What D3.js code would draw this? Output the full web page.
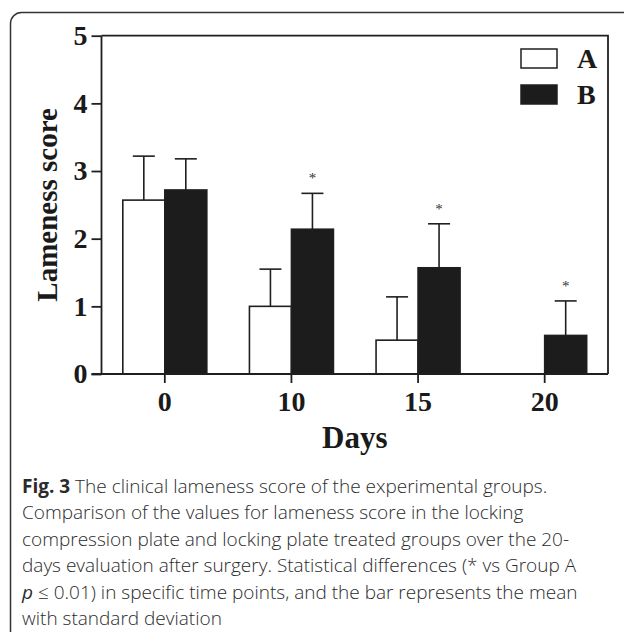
<!DOCTYPE html>
<html>
<head>
<meta charset="utf-8">
<script src="https://cdn.jsdelivr.net/npm/d3@7"></script>
<style>
  html, body { margin: 0; padding: 0; background: #fff; }
  svg { display: block; }
  .serif { font-family: "Liberation Serif", "Times New Roman", serif; font-weight: bold; fill: #1a1a1a; }
  .cap { font-family: "Open Sans", "Noto Sans", sans-serif; fill: #2b2b2b; }
</style>
</head>
<body>
<svg id="chart" width="624" height="632"></svg>
<script>
/* Lameness score bar chart, groups A and B over days after surgery. */

const days = ["0", "10", "15", "20"];
const groups = ["A", "B"];
const meanA = [2.57, 1.0, 0.5, 0];
const sdA = [0.65, 0.55, 0.64, 0];
const meanB = [2.72, 2.14, 1.57, 0.57];
const sdB = [0.46, 0.53, 0.65, 0.51];
const signif = [false, true, true, true]; // * vs group A, B bars only
const yTicks = [0, 1, 2, 3, 4, 5];

const captionLines = [
  ["Fig. 3", " The clinical lameness score of the experimental groups."],
  ["", "Comparison of the values for lameness score in the locking"],
  ["", "compression plate and locking plate treated groups over the 20-"],
  ["", "days evaluation after surgery. Statistical differences (* vs Group A"],
  ["p", " \u2264 0.01) in specific time points, and the bar represents the mean"],
  ["", "with standard deviation"],
];

const ink = "#1f1f1f";
const svg = d3.select("#chart");

// outer figure frame (runs off the right and bottom edges)
svg.append("rect")
  .attr("x", 10.5).attr("y", 12.5)
  .attr("width", 700).attr("height", 700)
  .attr("rx", 11)
  .attr("fill", "none")
  .attr("stroke", "#333")
  .attr("stroke-width", 1.5);

const plot = { left: 101.5, right: 608, top: 35.7, bottom: 374 };

const x = d3.scaleBand().domain(days).range([plot.left, plot.right]).padding(0);
const y = d3.scaleLinear().domain([0, 5]).range([plot.bottom, plot.top]);
const barW = 42;

const rows = days.map((d, i) => [
  { day: d, g: "A", mean: meanA[i], sd: sdA[i] },
  { day: d, g: "B", mean: meanB[i], sd: sdB[i], star: signif[i] },
]).flat();

const barX = (r) => x(r.day) + x.bandwidth() / 2 + (r.g === "A" ? -barW : 0);

// error bars (upper only)
const err = svg.append("g")
  .attr("stroke", ink).attr("stroke-width", 1.6)
  .selectAll("g").data(rows.filter((r) => r.sd > 0)).join("g");
err.append("line")
  .attr("x1", (r) => barX(r) + barW / 2).attr("x2", (r) => barX(r) + barW / 2)
  .attr("y1", (r) => y(r.mean)).attr("y2", (r) => y(r.mean + r.sd));
err.append("line")
  .attr("x1", (r) => barX(r) + barW / 2 - 11).attr("x2", (r) => barX(r) + barW / 2 + 11)
  .attr("y1", (r) => y(r.mean + r.sd)).attr("y2", (r) => y(r.mean + r.sd));

// bars
svg.append("g").selectAll("rect").data(rows.filter((r) => r.mean > 0)).join("rect")
  .attr("x", (r) => barX(r))
  .attr("y", (r) => y(r.mean))
  .attr("width", barW)
  .attr("height", (r) => y(0) - y(r.mean))
  .attr("fill", (r) => (r.g === "A" ? "#fff" : "#1c1c1c"))
  .attr("stroke", ink)
  .attr("stroke-width", 1.6);

// significance stars
svg.append("g").selectAll("text").data(rows.filter((r) => r.star)).join("text")
  .attr("x", (r) => barX(r) + barW / 2)
  .attr("y", (r) => y(r.mean + r.sd) - 10)
  .attr("text-anchor", "middle")
  .style("font-family", "Liberation Serif, serif")
  .style("font-size", "15px")
  .style("fill", "#333")
  .text("*");

// axes
const yAxis = svg.append("g")
  .attr("transform", `translate(${plot.left},0)`)
  .call(d3.axisLeft(y).tickValues(yTicks).tickFormat(d3.format("d")).tickSize(10).tickPadding(4));
const xAxis = svg.append("g")
  .attr("transform", `translate(0,${plot.bottom})`)
  .call(d3.axisBottom(x).tickSize(9).tickSizeOuter(0).tickPadding(8));
[yAxis, xAxis].forEach((a) => {
  a.select(".domain").attr("stroke", ink).attr("stroke-width", 1.8);
  a.selectAll(".tick line").attr("stroke", ink).attr("stroke-width", 1.8);
  a.selectAll(".tick text").attr("class", "serif").attr("font-size", 28).attr("fill", ink);
});
yAxis.select(".domain").attr("d", `M0,${plot.bottom}V${plot.top}`);
xAxis.select(".domain").attr("d", `M${plot.left - 10},0H${plot.right}`);

// top and right frame lines
svg.append("path")
  .attr("d", `M${plot.left},${plot.top}H${plot.right}V${plot.bottom}`)
  .attr("fill", "none").attr("stroke", ink).attr("stroke-width", 1.8);

// axis titles
svg.append("text").attr("class", "serif")
  .attr("transform", `translate(57,${(plot.top + plot.bottom) / 2}) rotate(-90)`)
  .attr("text-anchor", "middle").attr("font-size", 29)
  .text("Lameness score");
svg.append("text").attr("class", "serif")
  .attr("x", (plot.left + plot.right) / 2).attr("y", 448)
  .attr("text-anchor", "middle").attr("font-size", 31)
  .text("Days");

// legend
const leg = svg.append("g").selectAll("g").data(groups).join("g")
  .attr("transform", (g, i) => `translate(521,${49 + i * 36})`);
leg.append("rect")
  .attr("width", 36).attr("height", 19)
  .attr("fill", (g) => (g === "A" ? "#fff" : "#1c1c1c"))
  .attr("stroke", ink).attr("stroke-width", 1.5);
leg.append("text").attr("class", "serif")
  .attr("x", 56).attr("y", 19).attr("font-size", 28)
  .text((g) => g);

// caption
const cap = svg.append("g").selectAll("text").data(captionLines).join("text")
  .attr("class", "cap")
  .attr("x", 22)
  .attr("y", (l, i) => 493 + i * 26.4)
  .attr("font-size", 19);
cap.append("tspan")
  .attr("font-weight", (l, i) => (i === 0 ? 700 : 400))
  .attr("font-style", (l, i) => (i === 4 ? "italic" : "normal"))
  .text((l) => l[0]);
cap.append("tspan").attr("font-weight", 300).text((l) => l[1]);
</script>
</body>
</html>
